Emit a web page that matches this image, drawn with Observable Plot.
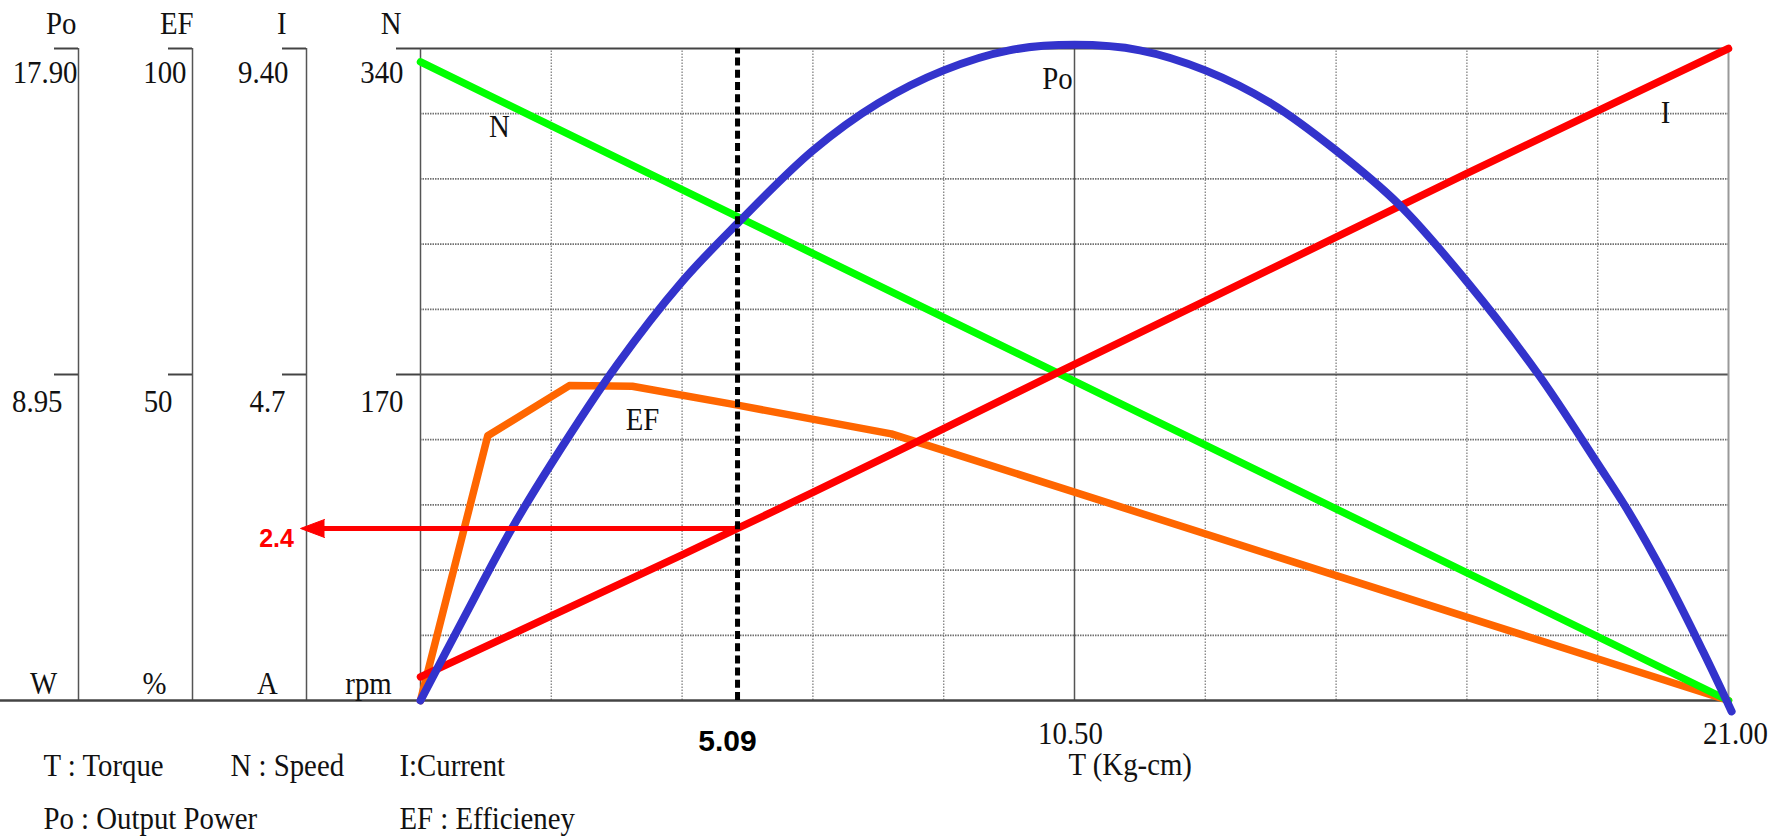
<!DOCTYPE html>
<html>
<head>
<meta charset="utf-8">
<script src="https://cdn.jsdelivr.net/npm/d3@7"></script>
<script src="https://cdn.jsdelivr.net/npm/@observablehq/plot@0.6"></script>
<style>
  html, body { margin: 0; padding: 0; background: #fff; overflow: hidden; }
  #chart svg { display: block; }
</style>
</head>
<body>
<div id="chart"></div>
<script>
// ------------------------------------------------------------------
// DATA
// ------------------------------------------------------------------
// Left-hand axes: name, unit, full-scale value, labels at 100 % and 50 %
const axisNames     = ["Po", "EF", "I", "N"];
const axisUnits     = ["W", "%", "A", "rpm"];
const axisMax       = [17.90, 100, 9.40, 340];
const axisTopLabels = ["17.90", "100", "9.40", "340"];
const axisMidLabels = ["8.95", "50", "4.7", "170"];

// Torque axis
const torqueMax     = 21.00;
const xTickValues   = [5.09, 10.50, 21.00];
const xTickLabels   = ["5.09", "10.50", "21.00"];
const xTitle        = "T (Kg-cm)";

// Legend text
const legendRow1 = ["T : Torque", "N : Speed", "I:Current"];
const legendRow2 = ["Po : Output Power", "EF : Efficieney"];

// Curve labels
const curveLabelNames = ["N", "Po", "I", "EF"];

// Speed N (rpm) vs torque
const speedT = [0, 21];
const speedN = [333, 0];

// Current I (A) vs torque
const currentT = [0, 2.1, 4.2, 5.09, 6.3, 7.63, 8.4, 10.21, 12.6, 14.7, 16.8, 18.9, 21];
const currentI = [0.34, 1.22, 2.10, 2.48, 3.0, 3.58, 3.92, 4.72, 5.76, 6.68, 7.6, 8.5, 9.40];

// Efficiency EF (%) vs torque
const effT  = [0, 1.08, 2.39, 3.40, 5.09, 7.56, 21];
const effEF = [0, 40.6, 48.3, 48.2, 45.3, 40.9, 0];

// Output power Po (W) vs torque
const powerT  = [0, 0.69, 1.46, 2.1, 3.15, 4.2, 5.09, 6.3, 7.35, 8.4, 9.45, 10.5,
                 11.55, 12.6, 13.65, 14.7, 15.72, 16.8, 17.94, 18.9, 19.39, 20.0, 20.59, 21.05];
const powerPo = [0, 2.25, 4.7, 6.5, 9.2, 11.5, 13.1, 15.1, 16.4, 17.3, 17.85, 18.0,
                 17.85, 17.3, 16.4, 15.1, 13.6, 11.5, 8.97, 6.5, 5.2, 3.35, 1.35, -0.3];

// Operating-point marker
const markerT = 5.09;
const markerI = 2.48;
const markerLabel = "2.4";

// ------------------------------------------------------------------
// LAYOUT (pixels)
// ------------------------------------------------------------------
const W = 1785, H = 837;
const PL = 420, PR = 1728, PT = 48, PB = 700;
const pxT = px => (px - PL) * torqueMax / (PR - PL);     // pixel -> torque units
const pyV = py => (PB - py) * 100 / (PB - PT);           // pixel -> percent units

const axisLinePx       = [78, 192, 306, 420];
const headerRightPx    = [76, 193, 286, 401];
const topLabelRightPx  = [77, 186, 288, 403];
const midLabelRightPx  = [62, 172, 285, 403];
const unitCenterPx     = [43, 154, 267, 368];
const tickLen = 24;
const tickDx = [-10, -4, 7];
const legendRow1Px = [43, 230, 399];
const legendRow2Px = [43, 399];
const xTitlePx = 1068;
const curveLabelPx = [[499, 136], [1057, 88], [1665, 122], [642, 429]];
const arrowTipPx = 300, arrowBasePx = 318, markerLabelPx = 276;

// ------------------------------------------------------------------
const pct = (v, i) => v / axisMax[i] * 100;
const rows = (T, V, i) => T.map((t, k) => ({T: t, y: pct(V[k], i)}));
const powerRows   = rows(powerT, powerPo, 0);
const effRows     = rows(effT, effEF, 1);
const currentRows = rows(currentT, currentI, 2);
const speedRows   = rows(speedT, speedN, 3);
const markerY = pct(markerI, 2);

const gridX = d3.range(1, 10).map(i => i * torqueMax / 10).filter(v => Math.abs(v - torqueMax / 2) > 1e-9);
const gridY = d3.range(1, 10).map(i => i * 10).filter(v => v !== 50);

const ticks = [];
axisLinePx.forEach(a => {
  [100, 50].forEach(y => ticks.push({y, x1: pxT(a - tickLen), x2: pxT(a)}));
});

const serif = {fontFamily: "Liberation Serif", fontSize: 32, fill: "#111", lineAnchor: "bottom"};
const txt = (data, o) => Plot.text(data, {x: "x", y: "y", text: "t", ...serif, ...o});

const headerRows = axisNames.map((t, i) => ({x: pxT(headerRightPx[i]), y: 100, t}));
const topRows    = axisTopLabels.map((t, i) => ({x: pxT(topLabelRightPx[i]), y: 100, t}));
const midRows    = axisMidLabels.map((t, i) => ({x: pxT(midLabelRightPx[i]), y: 50, t}));
const unitRows   = axisUnits.map((t, i) => ({x: pxT(unitCenterPx[i]), y: 0, t}));
const leg1 = legendRow1.map((t, i) => ({x: pxT(legendRow1Px[i]), y: 0, t}));
const leg2 = legendRow2.map((t, i) => ({x: pxT(legendRow2Px[i]), y: 0, t}));
const curveRows = curveLabelNames.map((t, i) => ({x: pxT(curveLabelPx[i][0]), y: pyV(curveLabelPx[i][1]), t}));

const tickMarks = xTickValues.map((v, i) => {
  const d = [{x: v, y: 0, t: xTickLabels[i]}];
  if (i === 0) {
    return Plot.text(d, {x: "x", y: "y", text: "t", fontFamily: "Liberation Sans", fontWeight: "bold",
      fontSize: 30, fill: "#000", lineAnchor: "bottom", textAnchor: "middle", dx: tickDx[i], dy: 50});
  }
  return txt(d, {textAnchor: "middle", dx: tickDx[i], dy: 43});
});

const svg = Plot.plot({
  width: W, height: H,
  marginLeft: PL, marginRight: W - PR, marginTop: PT, marginBottom: H - PB,
  x: {domain: [0, torqueMax], axis: null},
  y: {domain: [0, 100], axis: null},
  style: {background: "#fff", overflow: "visible"},
  marks: [
    // grid
    Plot.ruleX(gridX, {y1: 0, y2: 100, stroke: "#8a8a8a", strokeWidth: 1.4, strokeDasharray: "1.5,1.5"}),
    Plot.ruleY(gridY, {x1: 0, x2: torqueMax, stroke: "#707070", strokeWidth: 1.8, strokeDasharray: "1.5,1"}),
    Plot.ruleX([torqueMax / 2], {y1: 0, y2: 100, stroke: "#555", strokeWidth: 1.5}),
    Plot.ruleY([50], {x1: 0, x2: torqueMax, stroke: "#555", strokeWidth: 2}),
    Plot.ruleX([torqueMax], {y1: 0, y2: 100, stroke: "#999", strokeWidth: 2}),
    Plot.ruleY([100], {x1: 0, x2: torqueMax, stroke: "#444", strokeWidth: 2}),
    // left axis columns
    Plot.ruleX(axisLinePx.map(pxT), {y1: 0, y2: 100, stroke: "#555", strokeWidth: 1.5}),
    Plot.ruleY(ticks, {y: "y", x1: "x1", x2: "x2", stroke: "#444", strokeWidth: 2}),
    Plot.ruleY([0], {x1: pxT(0), x2: torqueMax, stroke: "#444", strokeWidth: 2.5}),
    // curves
    Plot.line(effRows, {x: "T", y: "y", stroke: "#ff6600", strokeWidth: 7.5, strokeLinejoin: "round"}),
    Plot.line(speedRows, {x: "T", y: "y", stroke: "#00ff00", strokeWidth: 7.5}),
    Plot.line(currentRows, {x: "T", y: "y", stroke: "#ff0000", strokeWidth: 7.5, strokeLinejoin: "round"}),
    Plot.line(powerRows, {x: "T", y: "y", stroke: "#3333cc", strokeWidth: 8, curve: "catmull-rom",
      strokeLinecap: "round"}),
    // operating point marker
    Plot.ruleY([markerY], {x1: pxT(arrowBasePx), x2: markerT, stroke: "#ff0000", strokeWidth: 5}),
    Plot.vector([{x: pxT(arrowTipPx), y: markerY}], {x: "x", y: "y", shape: "spike", anchor: "end",
      rotate: 270, length: 24, r: 9, fill: "#ff0000", stroke: "#ff0000", strokeWidth: 1}),
    Plot.ruleX([markerT], {y1: 0, y2: 100, stroke: "#000", strokeWidth: 5, strokeDasharray: "8,4.2"}),
    Plot.text([{x: pxT(markerLabelPx), y: markerY, t: markerLabel}], {x: "x", y: "y", text: "t",
      fontFamily: "Liberation Sans", fontWeight: "bold", fontSize: 25, fill: "#ff0000",
      lineAnchor: "bottom", textAnchor: "middle", dy: 19}),
    // texts
    txt(headerRows, {textAnchor: "end", dy: -15}),
    txt(topRows, {textAnchor: "end", dy: 34}),
    txt(midRows, {textAnchor: "end", dy: 37}),
    txt(unitRows, {textAnchor: "middle", dy: -7}),
    txt(curveRows, {textAnchor: "middle"}),
    ...tickMarks,
    txt([{x: pxT(xTitlePx), y: 0, t: xTitle}], {textAnchor: "start", dy: 74}),
    txt(leg1, {textAnchor: "start", dy: 75}),
    txt(leg2, {textAnchor: "start", dy: 128})
  ]
});

// condense the serif lettering horizontally like the scanned original
svg.querySelectorAll('g[font-family="Liberation Serif"] text').forEach(t => {
  const tr = t.getAttribute("transform") || "";
  const m = /translate\(\s*([-\d.eE]+)[\s,]+([-\d.eE]+)\s*\)/.exec(tr);
  const ax = m ? +m[1] : (parseFloat(t.getAttribute("x")) || 0);
  t.setAttribute("transform", `translate(${ax},0) scale(0.9,1) translate(${-ax},0) ${tr}`);
});

document.getElementById("chart").appendChild(svg);
</script>
</body>
</html>
